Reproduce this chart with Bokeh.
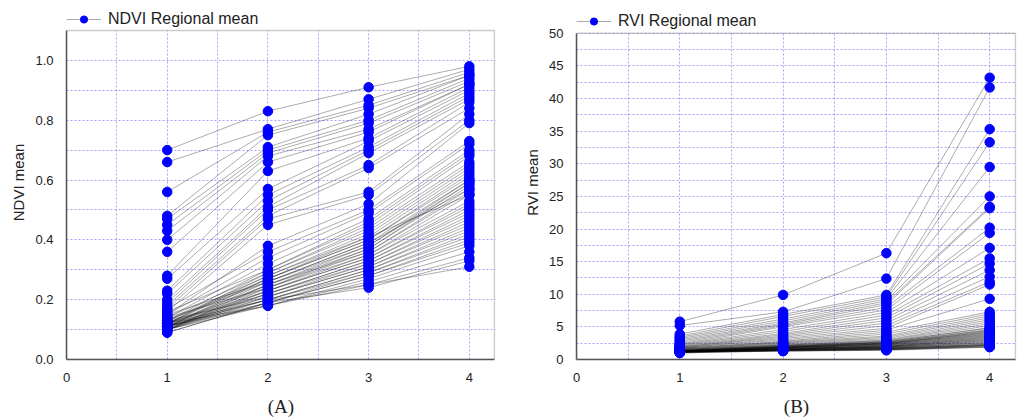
from bokeh.plotting import figure
from bokeh.layouts import row
from bokeh.models import (Range1d, FixedTicker, Legend, LegendItem, NumeralTickFormatter,
                          BoxAnnotation)
from bokeh.embed import file_html
from bokeh.resources import INLINE

stages = [1, 2, 3, 4]
x_ticks = [0, 1, 2, 3, 4]
x_minor = [0.5, 1.5, 2.5, 3.5]

ndvi_s1 = [0.70, 0.66, 0.56, 0.48, 0.47, 0.45, 0.43, 0.40, 0.36, 0.28, 0.27, 0.23, 0.22, 0.20, 0.19,
           0.18, 0.17, 0.16, 0.15, 0.17, 0.15, 0.14, 0.16, 0.13, 0.14, 0.12, 0.13, 0.12, 0.11, 0.12,
           0.11, 0.13, 0.10, 0.12, 0.11, 0.10, 0.12, 0.11, 0.10, 0.12, 0.11, 0.10, 0.12, 0.11, 0.10,
           0.13, 0.11, 0.10, 0.12, 0.09, 0.11, 0.10, 0.12, 0.11, 0.10, 0.09, 0.11, 0.14, 0.15, 0.13]
ndvi_s2 = [0.83, 0.77, 0.76, 0.75, 0.71, 0.70, 0.69, 0.68, 0.66, 0.63, 0.57, 0.55, 0.53, 0.51, 0.50,
           0.48, 0.47, 0.45, 0.38, 0.36, 0.34, 0.32, 0.30, 0.30, 0.29, 0.29, 0.28, 0.28, 0.27, 0.27,
           0.26, 0.26, 0.25, 0.25, 0.25, 0.24, 0.24, 0.23, 0.23, 0.23, 0.22, 0.22, 0.22, 0.21, 0.21,
           0.21, 0.20, 0.20, 0.20, 0.19, 0.19, 0.19, 0.18, 0.18, 0.18, 0.19, 0.20, 0.24, 0.26, 0.27]
ndvi_s3 = [0.91, 0.87, 0.85, 0.84, 0.82, 0.80, 0.79, 0.77, 0.76, 0.74, 0.73, 0.71, 0.70, 0.69, 0.65,
           0.64, 0.56, 0.55, 0.52, 0.50, 0.49, 0.47, 0.46, 0.45, 0.44, 0.43, 0.42, 0.41, 0.40, 0.40,
           0.39, 0.38, 0.38, 0.37, 0.36, 0.36, 0.35, 0.35, 0.34, 0.34, 0.33, 0.33, 0.32, 0.32, 0.31,
           0.31, 0.30, 0.30, 0.29, 0.29, 0.28, 0.28, 0.27, 0.26, 0.25, 0.24, 0.25, 0.37, 0.39, 0.41]
ndvi_s4 = [0.98, 0.97, 0.96, 0.95, 0.95, 0.94, 0.93, 0.92, 0.92, 0.91, 0.90, 0.89, 0.88, 0.87, 0.86,
           0.84, 0.82, 0.80, 0.79, 0.73, 0.72, 0.70, 0.69, 0.68, 0.66, 0.65, 0.64, 0.63, 0.62, 0.61,
           0.60, 0.60, 0.59, 0.58, 0.57, 0.56, 0.55, 0.53, 0.52, 0.51, 0.50, 0.49, 0.48, 0.47, 0.46,
           0.45, 0.44, 0.43, 0.42, 0.41, 0.40, 0.39, 0.38, 0.36, 0.34, 0.33, 0.31, 0.59, 0.57, 0.55]

rvi_s1 = [5.8, 5.2, 3.9, 3.6, 3.4, 3.2, 3.0, 2.8, 2.6, 2.4, 2.3, 2.2, 2.1, 2.0, 1.9,
          1.9, 1.8, 1.8, 1.7, 1.7, 1.6, 1.6, 1.5, 1.5, 1.5, 1.4, 1.4, 1.4, 1.3, 1.3,
          1.3, 1.3, 1.2, 1.3, 1.2, 1.2, 1.3, 1.2, 1.1, 1.2, 1.2, 1.1, 1.2, 1.2, 1.1,
          1.3, 1.2, 1.1, 1.2, 1.0, 1.2, 1.1, 1.2, 1.2, 1.1, 1.0, 1.2, 1.3, 1.4, 1.3]
rvi_s2 = [9.9, 7.3, 6.9, 6.6, 6.2, 5.9, 5.6, 5.4, 5.2, 5.0, 4.6, 4.3, 4.0, 3.8, 3.6,
          3.4, 3.2, 3.0, 2.8, 2.7, 2.6, 2.5, 2.4, 2.3, 2.2, 2.2, 2.1, 2.1, 2.0, 2.0,
          1.9, 1.9, 1.9, 1.8, 1.8, 1.8, 1.7, 1.7, 1.7, 1.7, 1.6, 1.6, 1.6, 1.6, 1.5,
          1.5, 1.5, 1.5, 1.5, 1.4, 1.4, 1.4, 1.4, 1.3, 1.3, 1.3, 1.4, 1.8, 1.9, 2.0]
rvi_s3 = [16.3, 12.4, 9.9, 9.6, 9.3, 9.0, 8.7, 8.4, 8.0, 7.6, 7.2, 6.8, 6.4, 6.0, 5.6,
          5.2, 4.8, 4.5, 4.2, 3.9, 3.6, 3.4, 3.2, 3.0, 2.9, 2.8, 2.7, 2.6, 2.5, 2.5,
          2.4, 2.4, 2.3, 2.3, 2.2, 2.2, 2.1, 2.1, 2.0, 2.0, 2.0, 1.9, 1.9, 1.9, 1.8,
          1.8, 1.8, 1.7, 1.7, 1.7, 1.6, 1.6, 1.6, 1.5, 1.5, 1.4, 1.5, 2.4, 2.6, 2.7]
rvi_s4 = [43.2, 41.7, 35.3, 33.3, 29.5, 25.0, 23.4, 23.2, 20.2, 19.4, 17.1, 15.5, 14.7, 13.7, 12.7,
          11.9, 11.5, 9.3, 7.3, 7.0, 6.7, 6.4, 6.1, 5.8, 5.5, 5.2, 4.9, 4.6, 4.4, 4.2,
          4.1, 4.0, 3.9, 3.8, 3.7, 3.6, 3.5, 3.4, 3.3, 3.2, 3.1, 3.0, 2.9, 2.8, 2.7,
          2.6, 2.5, 2.4, 2.3, 2.3, 2.2, 2.2, 2.1, 2.1, 2.0, 1.9, 1.9, 4.3, 4.5, 4.8]

ndvi_ticks = [0.0, 0.2, 0.4, 0.6, 0.8, 1.0]
ndvi_minor = [0.1, 0.3, 0.5, 0.7, 0.9]
rvi_ticks = [0, 5, 10, 15, 20, 25, 30, 35, 40, 45, 50]
rvi_minor = [2.5, 7.5, 12.5, 17.5, 22.5, 27.5, 32.5, 37.5, 42.5, 47.5]

FONT = "Liberation Sans"
GRID = "#8c8cff"
FRAME = "#555555"
X_MAX = 4.25


def panel(series, ymax, yticks, yminor, yfmt, ylabel, caption, legend_text,
          width, height, borders, box_px, legend_y):
    left, right, top, bottom = borders
    frame_h = height - top - bottom
    # the visible box spans box_px pixels; the extra room above holds the legend
    y_end = ymax * frame_h / box_px
    frame_w = width - left - right
    x_end = X_MAX * frame_w / (frame_w - 1)
    p = figure(width=width, height=height, output_backend="svg", toolbar_location=None,
               x_range=Range1d(0, x_end), y_range=Range1d(0, y_end),
               min_border_left=left, min_border_right=right,
               min_border_top=top, min_border_bottom=bottom)
    p.background_fill_color = "white"
    p.border_fill_color = "white"
    p.outline_line_color = None

    xs = [stages for _ in series[0]]
    ys = [[a, b, c, d] for a, b, c, d in zip(*series)]
    lines = p.multi_line(xs, ys, line_color="black", line_alpha=0.33, line_width=1)

    px, py = [], []
    for st, vals in zip(stages, series):
        px += [st] * len(vals)
        py += list(vals)
    dots = p.scatter(x=px, y=py, size=9.5, fill_color="#0000ff", line_color="#0000ff",
                     marker="circle")

    p.xaxis.ticker = FixedTicker(ticks=x_ticks, minor_ticks=x_minor)
    p.yaxis.ticker = FixedTicker(ticks=yticks, minor_ticks=yminor)
    p.yaxis.formatter = NumeralTickFormatter(format=yfmt)
    p.xaxis.formatter = NumeralTickFormatter(format="0")
    p.xaxis.bounds = (0, X_MAX)
    p.yaxis.bounds = (0, ymax)

    for ax in (p.xaxis, p.yaxis):
        ax.axis_line_color = FRAME
        ax.axis_line_width = 1.5
        ax.major_tick_line_color = None
        ax.minor_tick_line_color = None
        ax.major_label_text_font = FONT
        ax.major_label_text_font_size = "13px"
        ax.major_label_text_color = "#222222"
        ax.major_label_standoff = 7
    p.yaxis.axis_label = ylabel
    p.yaxis.axis_label_text_font = FONT
    p.yaxis.axis_label_text_font_size = "15px"
    p.yaxis.axis_label_text_font_style = "normal"
    p.yaxis.axis_label_text_color = "#222222"
    p.yaxis.axis_label_standoff = 5

    p.xaxis.axis_label = caption
    p.xaxis.axis_label_text_font = "Liberation Serif"
    p.xaxis.axis_label_text_font_size = "19px"
    p.xaxis.axis_label_text_font_style = "normal"
    p.xaxis.axis_label_text_color = "#222222"
    p.xaxis.axis_label_standoff = 11

    for g in (p.xgrid, p.ygrid):
        g.grid_line_color = GRID
        g.grid_line_dash = "2 2"
        g.grid_line_width = 1
        g.grid_line_alpha = 0.8
        g.minor_grid_line_color = GRID
        g.minor_grid_line_dash = "2 2"
        g.minor_grid_line_width = 1
        g.minor_grid_line_alpha = 0.8

    # white band above the box hides the grid there; then the box border
    p.add_layout(BoxAnnotation(bottom=ymax, fill_color="white", fill_alpha=1,
                               line_color=None))
    p.add_layout(BoxAnnotation(left=0, right=X_MAX, bottom=0, top=ymax,
                               fill_alpha=0, line_color=FRAME, line_width=1.5))

    legend = Legend(items=[LegendItem(label=legend_text, renderers=[lines, dots])],
                    location=(0, legend_y), orientation="horizontal",
                    background_fill_alpha=0, border_line_color=None,
                    label_text_font=FONT, label_text_font_size="16px",
                    label_text_color="#222222",
                    glyph_width=35, glyph_height=18, label_standoff=7,
                    padding=0, margin=0, spacing=0, label_height=18)
    p.add_layout(legend, "center")
    return p


p1 = panel([ndvi_s1, ndvi_s2, ndvi_s3, ndvi_s4], 1.1, ndvi_ticks, ndvi_minor, "0.0",
           "NDVI mean", "(A)", "NDVI Regional mean", 508, 419, (66, 13, 5, 59), 330, 331)
p2 = panel([rvi_s1, rvi_s2, rvi_s3, rvi_s4], 50, rvi_ticks, rvi_minor, "0",
           "RVI mean", "(B)", "RVI Regional mean", 509, 419, (68, 1, 5, 58), 328, 329)

layout = row(p1, p2)
open("out.html", "w").write(file_html(layout, INLINE))
